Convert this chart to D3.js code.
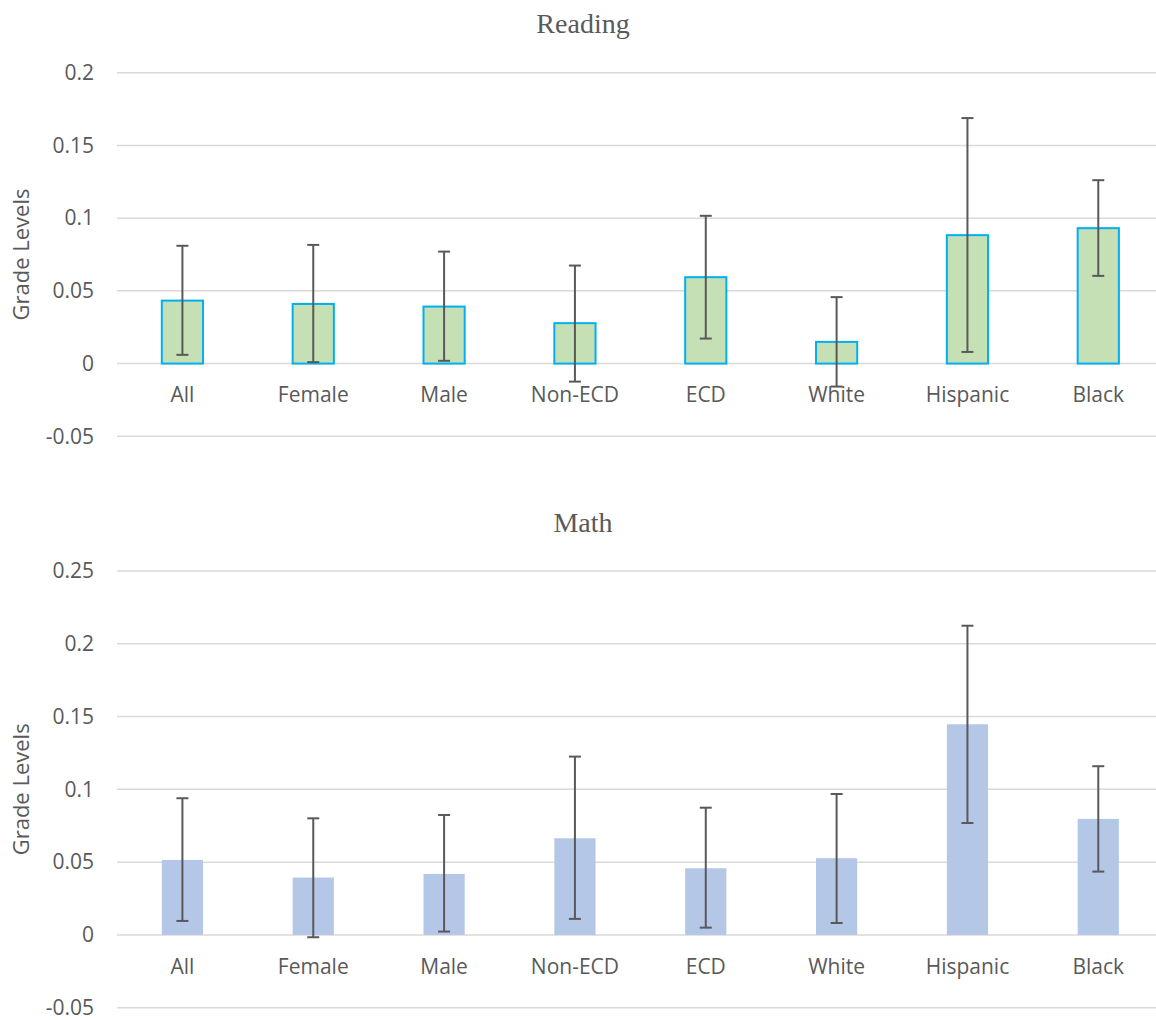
<!DOCTYPE html>
<html>
<head>
<meta charset="utf-8">
<script src="https://cdn.jsdelivr.net/npm/d3@7"></script>
<style>
  body { margin: 0; background: #fff; }
  svg text { fill: #595959; }
</style>
</head>
<body>
<div id="chart"></div>
<script>
const groups = ["All", "Female", "Male", "Non-ECD", "ECD", "White", "Hispanic", "Black"];

// Reading: estimate with lower / upper bounds of error bars
const readingValues = [0.0433, 0.041, 0.0392, 0.0278, 0.0594, 0.0149, 0.0883, 0.0931];
const readingLow = [0.006, 0.001, 0.0019, -0.0124, 0.0172, -0.0158, 0.008, 0.0603];
const readingHigh = [0.081, 0.0816, 0.077, 0.0674, 0.1016, 0.0457, 0.1688, 0.1261];
const readingTicks = [-0.05, 0, 0.05, 0.1, 0.15, 0.2];

// Math
const mathValues = [0.0515, 0.0394, 0.0419, 0.0664, 0.0458, 0.0527, 0.1447, 0.0797];
const mathLow = [0.0096, -0.0016, 0.0023, 0.011, 0.005, 0.0082, 0.0769, 0.0435];
const mathHigh = [0.0939, 0.0801, 0.0824, 0.1225, 0.0874, 0.0968, 0.2124, 0.1159];
const mathTicks = [-0.05, 0, 0.05, 0.1, 0.15, 0.2, 0.25];

const W = 1156, H = 1020;
const svg = d3.select("#chart").append("svg")
  .attr("width", W)
  .attr("height", H);

const drawChart = (cfg) => {
  const x = d3.scaleBand().domain(groups).range([117, 1163.7]);
  const y = d3.scaleLinear()
    .domain([d3.min(cfg.ticks), d3.max(cfg.ticks)])
    .range([cfg.bottom, cfg.top]);
  const bw = x.bandwidth() * 0.315;
  const g = svg.append("g");

  // gridlines
  g.append("g")
    .selectAll("line")
    .data(cfg.ticks)
    .join("line")
    .attr("x1", 117)
    .attr("x2", W)
    .attr("y1", (d) => y(d))
    .attr("y2", (d) => y(d))
    .attr("stroke", "#d9d9d9")
    .attr("stroke-width", 1.5);

  // y axis labels (plain hyphen for negatives, like Excel)
  g.append("g")
    .call(d3.axisLeft(y).tickValues(cfg.ticks).tickSize(0).tickPadding(0)
      .tickFormat((d) => String(+d.toFixed(2))))
    .attr("transform", "translate(94,0)")
    .call((a) => a.select(".domain").remove())
    .selectAll("text")
    .attr("font-family", "'Open Sans', sans-serif")
    .attr("font-size", 21)
    .attr("fill", "#595959");

  // x labels
  g.append("g")
    .attr("transform", `translate(0,${y(0)})`)
    .call(d3.axisBottom(x).tickSize(0).tickPadding(24))
    .call((a) => a.select(".domain").remove())
    .selectAll("text")
    .attr("font-family", "'Open Sans', sans-serif")
    .attr("font-size", 21)
    .attr("fill", "#595959");

  // bars
  g.append("g")
    .selectAll("rect")
    .data(groups)
    .join("rect")
    .attr("x", (d) => x(d) + x.bandwidth() / 2 - bw / 2)
    .attr("y", (d, i) => y(cfg.values[i]))
    .attr("width", bw)
    .attr("height", (d, i) => y(0) - y(cfg.values[i]))
    .attr("fill", cfg.fill)
    .attr("stroke", cfg.stroke)
    .attr("stroke-width", cfg.stroke === "none" ? 0 : 2);

  // error bars
  const err = g.append("g")
    .attr("stroke", "#595959")
    .attr("stroke-width", 2)
    .selectAll("g")
    .data(groups)
    .join("g")
    .attr("transform", (d) => `translate(${x(d) + x.bandwidth() / 2},0)`);
  err.append("line")
    .attr("y1", (d, i) => y(cfg.low[i]))
    .attr("y2", (d, i) => y(cfg.high[i]));
  err.append("line")
    .attr("x1", -6).attr("x2", 6)
    .attr("y1", (d, i) => y(cfg.high[i]))
    .attr("y2", (d, i) => y(cfg.high[i]));
  err.append("line")
    .attr("x1", -6).attr("x2", 6)
    .attr("y1", (d, i) => y(cfg.low[i]))
    .attr("y2", (d, i) => y(cfg.low[i]));

  // title
  g.append("text")
    .attr("x", 583)
    .attr("y", cfg.titleY)
    .attr("text-anchor", "middle")
    .attr("font-family", "'Liberation Serif', 'Times New Roman', serif")
    .attr("font-size", 28)
    .text(cfg.title);

  // y axis title
  g.append("text")
    .attr("transform", `translate(21,${(cfg.top + cfg.bottom) / 2}) rotate(-90)`)
    .attr("text-anchor", "middle")
    .attr("dy", "0.35em")
    .attr("font-family", "'Open Sans', sans-serif")
    .attr("font-size", 22)
    .text("Grade Levels");
};

drawChart({
  title: "Reading", titleY: 33, top: 72.7, bottom: 436.3,
  ticks: readingTicks, values: readingValues, low: readingLow, high: readingHigh,
  fill: "#c5e0b4", stroke: "#00b0f0"
});

drawChart({
  title: "Math", titleY: 532, top: 571, bottom: 1007.7,
  ticks: mathTicks, values: mathValues, low: mathLow, high: mathHigh,
  fill: "#b4c7e7", stroke: "none"
});
</script>
</body>
</html>
